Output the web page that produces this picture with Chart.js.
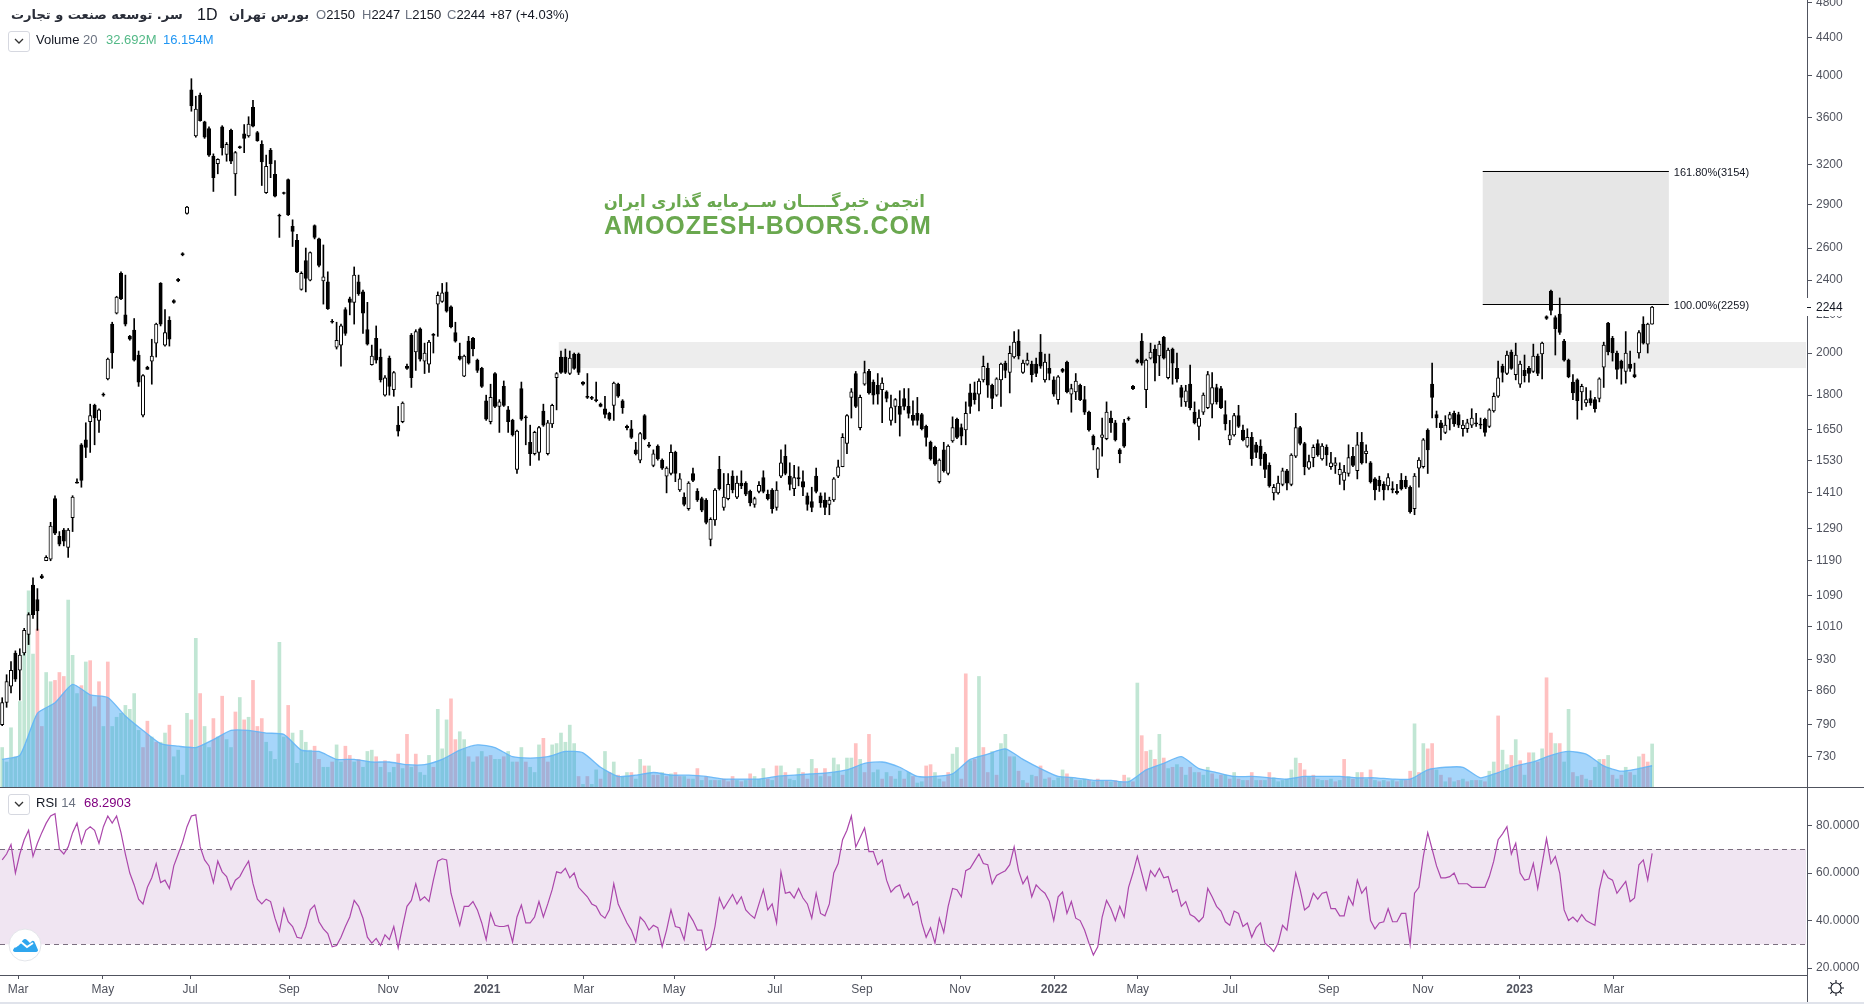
<!DOCTYPE html>
<html>
<head>
<meta charset="utf-8">
<title>chart</title>
<script src="https://cdn.jsdelivr.net/npm/chart.js@4/dist/chart.umd.min.js"></script>
<style>
  html, body { margin: 0; background: #fff; width: 1864px; height: 1005px; overflow: hidden; }
  canvas { position: absolute; left: 0; }
  .t { position: absolute; white-space: nowrap; font: 13px "Liberation Sans", sans-serif; color: #131722; line-height: 16px; }
  .g { color: #6b7280; }
  .box { position: absolute; left: 8px; width: 20px; height: 19px; border: 1px solid #d6d8e0; border-radius: 3px; }
  .rule { position: absolute; background: #50535e; }
</style>
</head>
<body>
<canvas id="graficoVolume" width="1864" height="787" style="top:0"></canvas>
<canvas id="graficoPreco" width="1864" height="787" style="top:0"></canvas>
<canvas id="graficoRsi" width="1864" height="214" style="top:787px"></canvas>

<div class="rule" style="left:0;top:787px;width:1864px;height:1px"></div>
<div class="rule" style="left:1807px;top:975px;width:1px;height:27px"></div>
<div style="position:absolute;left:0;top:1002px;width:1864px;height:2px;background:#e0e3eb"></div>

<!-- cabecalho -->
<div class="t" dir="rtl" style="left:11px;top:7px;font:bold 13px 'DejaVu Sans';color:#2a2e39">سر. توسعه صنعت و تجارت</div>
<div class="t" style="left:197px;top:7px;font-size:16px">1D</div>
<div class="t" dir="rtl" style="left:229px;top:7px;font:bold 13px 'DejaVu Sans';color:#2a2e39">بورس تهران</div>
<div class="t" style="left:316px;top:7px"><span class="g">O</span>2150</div>
<div class="t" style="left:362px;top:7px"><span class="g">H</span>2247</div>
<div class="t" style="left:405px;top:7px"><span class="g">L</span>2150</div>
<div class="t" style="left:447px;top:7px"><span class="g">C</span>2244</div>
<div class="t" style="left:490px;top:7px">+87 (+4.03%)</div>

<div class="box" style="top:31px"></div>
<svg style="position:absolute;left:14px;top:37px" width="10" height="8"><path d="M1 2 L5 6 L9 2" fill="none" stroke="#333" stroke-width="1.3"/></svg>
<div class="t" style="left:36px;top:32px">Volume <span class="g">20</span></div>
<div class="t" style="left:106px;top:32px;color:#53b987">32.692M</div>
<div class="t" style="left:163px;top:32px;color:#2196f3">16.154M</div>

<div class="box" style="top:794px"></div>
<svg style="position:absolute;left:14px;top:800px" width="10" height="8"><path d="M1 2 L5 6 L9 2" fill="none" stroke="#333" stroke-width="1.3"/></svg>
<div class="t" style="left:36px;top:795px">RSI <span class="g">14</span></div>
<div class="t" style="left:84px;top:795px;color:#800080">68.2903</div>

<!-- marca d'agua -->
<div class="t" dir="rtl" style="left:604px;top:190px;width:321px;text-align:center;font:bold 16.5px 'DejaVu Sans';line-height:24px;color:#6aa84f">انجمن خبرگـــــان ســرمایه گذاری ایران</div>
<div class="t" style="left:604px;top:211px;font:bold 25px 'Liberation Sans';line-height:28px;color:#6aa84f;letter-spacing:1px">AMOOZESH-BOORS.COM</div>

<!-- logo e engrenagem -->
<svg style="position:absolute;left:7px;top:927px" width="36" height="36">
  <circle cx="18" cy="18" r="16" fill="#fff" stroke="#e3e5ea" stroke-width="1"/>
  <path d="M6 23 Q8 19 11 19 L16 13 Q18 11 20 13 L23 16 L25 14 Q27 13 28 16 L31 23 Q31 25 28 25 L9 25 Q6 25 6 23Z" fill="#2fa6ee"/>
  <path d="M8 20 L14 15 L20 20 L26 16" fill="none" stroke="#fff" stroke-width="2"/>
</svg>
<svg style="position:absolute;left:1827px;top:979px" width="18" height="18" fill="none" stroke="#131722" stroke-width="1.1">
  <circle cx="9" cy="9" r="5"/>
  <path d="M9 1 V4 M9 14 V17 M1 9 H4 M14 9 H17 M3.3 3.3 L5.4 5.4 M12.6 12.6 L14.7 14.7 M3.3 14.7 L5.4 12.6 M12.6 5.4 L14.7 3.3"/>
</svg>

<script>
// velas (amostra a cada dois pregoes)
const abertura = [
  790,835,870,945,905,945,990,1120,1080,1140,
  1190,1195,1390,1265,1285,1230,1325,1445,1590,1610,
  1685,1755,1690,1800,1875,2150,2210,2440,2200,2085,
  2118,1990,1712,1930,1960,2050,2380,2040,2170,2270,
  2395,2555,2835,3860,3440,3810,3565,3505,3270,3210,
  3520,3285,3490,3130,3340,3460,3440,3695,3470,3370,
  2985,3320,3125,2820,2980,3085,2745,2650,2345,2520,
  2400,2750,2660,2395,2390,2160,2030,2040,2230,2290,
  2270,2390,2330,2120,1942,2075,1980,1800,1975,1825,
  1670,1685,1925,2090,2005,2125,1960,1945,2090,2260,
  2275,2330,2245,2105,1985,1888,2060,2075,1965,1925,
  1775,1685,1900,1750,1840,1735,1690,1495,1830,1700,
  1600,1555,1560,1730,1555,1675,1880,1980,1980,1900,
  1995,1995,1860,1795,1790,1780,1760,1740,1720,1755,
  1850,1775,1665,1655,1570,1530,1710,1585,1510,1585,
  1530,1470,1480,1560,1420,1395,1355,1480,1415,1390,
  1385,1255,1318,1495,1360,1390,1470,1395,1445,1445,
  1415,1370,1415,1465,1405,1420,1360,1470,1545,1470,
  1425,1465,1450,1400,1380,1470,1400,1385,1370,1385,
  1470,1505,1595,1790,1900,1660,1850,1910,1860,1845,
  1825,1815,1690,1750,1750,1785,1750,1712,1720,1715,
  1665,1600,1580,1450,1570,1480,1605,1695,1660,1650,
  1810,1810,1805,1870,1925,1845,1800,1870,1950,1905,
  1980,2060,1905,1945,1945,1945,2005,1870,1925,1870,
  1780,1910,1955,1805,1815,1845,1780,1725,1625,1495,
  1620,1615,1700,1680,1570,1680,1700,1830,1955,2060,
  1825,1975,2020,1985,2080,1880,2020,1925,1835,1770,
  1850,1725,1665,1725,1745,1760,1835,1830,1715,1610,
  1630,1710,1650,1585,1620,1590,1585,1555,1510,1410,
  1410,1440,1490,1440,1545,1660,1595,1500,1540,1595,
  1535,1580,1505,1510,1475,1455,1480,1545,1490,1600,
  1555,1520,1460,1455,1440,1435,1425,1415,1455,1455,
  1430,1355,1500,1505,1650,1850,1715,1680,1640,1695,
  1720,1715,1655,1655,1670,1680,1675,1695,1665,1730,
  1795,1935,1900,2005,1895,1850,1915,1925,1910,1985,
  1995,2190,2335,2185,2205,2060,1965,1860,1870,1815,
  1765,1785,1780,1785,1930,2155,2075,2000,1960,1910,
  1945,1885,2000,2150,2045,2150
];
const fechamento = [
  835,880,905,885,940,1000,1040,1040,1050,1146,
  1200,1298,1275,1240,1250,1285,1395,1445,1455,1580,
  1710,1700,1735,1805,1970,2000,2300,2290,2150,2070,
  1965,1860,1890,1920,1985,2150,2150,2105,2070,2280,
  2405,2565,2880,3710,3680,3575,3430,3280,3100,3245,
  3340,3370,3230,3300,3350,3420,3545,3525,3400,3225,
  3190,3210,2960,2815,2985,2825,2710,2450,2440,2410,
  2570,2670,2490,2420,2235,2165,2065,2140,2100,2270,
  2430,2320,2210,2045,1985,1965,1870,1880,1840,1905,
  1645,1765,1935,1880,2110,1970,2000,2055,2095,2310,
  2325,2220,2135,2060,1970,1985,1950,2020,1915,1840,
  1695,1790,1750,1770,1755,1685,1630,1645,1695,1705,
  1555,1640,1660,1670,1680,1755,1900,1905,1905,1975,
  1925,1905,1850,1790,1785,1775,1750,1715,1695,1855,
  1795,1745,1660,1620,1555,1635,1615,1590,1555,1535,
  1500,1500,1560,1480,1460,1370,1445,1455,1385,1350,
  1310,1320,1420,1425,1395,1440,1420,1445,1435,1405,
  1375,1390,1437,1415,1390,1355,1420,1520,1480,1440,
  1465,1460,1430,1370,1360,1415,1375,1360,1385,1460,
  1505,1620,1710,1815,1750,1790,1905,1810,1800,1805,
  1855,1785,1745,1780,1715,1750,1720,1690,1690,1655,
  1620,1535,1515,1530,1490,1585,1660,1620,1625,1720,
  1750,1780,1865,1935,1845,1785,1875,1945,1915,1998,
  2055,1985,1950,1965,1895,1900,1935,1955,1900,1805,
  1885,1920,1815,1830,1865,1780,1725,1650,1590,1575,
  1630,1725,1680,1610,1555,1585,1695,1840,1965,1950,
  1965,2005,1950,2045,1975,2015,1950,1875,1790,1820,
  1745,1680,1700,1800,1895,1835,1770,1745,1675,1630,
  1710,1665,1610,1620,1535,1560,1535,1495,1435,1430,
  1445,1490,1445,1550,1660,1595,1505,1525,1580,1550,
  1585,1550,1520,1520,1495,1485,1540,1510,1590,1520,
  1565,1450,1420,1435,1420,1465,1420,1410,1425,1430,
  1345,1470,1530,1610,1570,1790,1700,1660,1670,1715,
  1675,1670,1670,1680,1700,1675,1670,1640,1735,1795,
  1880,1905,1990,1925,1990,1945,1890,1900,1985,1900,
  2050,2180,2225,2125,2105,1965,1885,1810,1775,1840,
  1780,1765,1740,1875,2040,2005,2000,1920,1925,2000,
  1925,1895,2105,2050,2150,2244
];
const maximas = [
  845,895,925,950,955,1005,1045,1140,1110,1150,
  1205,1310,1400,1280,1290,1290,1400,1460,1595,1680,
  1760,1760,1740,1810,1975,2160,2305,2450,2430,2090,
  2180,2010,1895,1935,2070,2155,2385,2230,2190,2285,
  2410,2570,2885,3970,3800,3830,3570,3520,3290,3250,
  3530,3385,3500,3310,3355,3540,3610,3760,3480,3400,
  3280,3335,3235,2830,2990,3090,2790,2690,2450,2600,
  2575,2755,2665,2620,2450,2175,2160,2150,2240,2300,
  2480,2430,2340,2270,2040,2140,2020,1890,1985,1910,
  1750,1770,1945,2100,2120,2130,2050,2065,2100,2330,
  2380,2385,2250,2160,2050,1990,2085,2080,1970,1930,
  1800,1850,1905,1780,1865,1750,1695,1650,1860,1710,
  1670,1645,1665,1760,1690,1760,1905,2010,2020,2010,
  2000,2000,1862,1900,1795,1860,1765,1795,1725,1860,
  1855,1780,1670,1690,1600,1640,1715,1600,1570,1590,
  1535,1505,1590,1565,1480,1410,1450,1500,1425,1395,
  1390,1325,1425,1545,1480,1480,1490,1470,1490,1450,
  1420,1395,1450,1490,1420,1425,1450,1570,1590,1520,
  1510,1505,1490,1410,1430,1500,1410,1410,1395,1465,
  1530,1635,1715,1830,1910,1800,1960,1920,1870,1900,
  1880,1820,1800,1785,1820,1830,1830,1775,1790,1720,
  1670,1605,1585,1535,1600,1590,1705,1700,1675,1770,
  1850,1860,1875,1985,1950,1850,1880,1950,1960,2035,
  2110,2120,1965,2000,1960,1975,2095,1995,1995,1885,
  1890,1925,1960,1850,1900,1850,1840,1730,1630,1580,
  1700,1770,1730,1690,1575,1695,1705,1845,1970,2100,
  1970,2050,2040,2060,2085,2025,2025,2000,1845,1845,
  1940,1770,1735,1810,1910,1905,1850,1840,1775,1690,
  1720,1755,1670,1655,1640,1600,1610,1560,1520,1440,
  1470,1500,1495,1555,1720,1665,1600,1550,1590,1610,
  1595,1590,1560,1540,1520,1510,1590,1580,1640,1640,
  1590,1525,1465,1470,1450,1480,1450,1440,1480,1470,
  1435,1480,1540,1615,1655,1950,1730,1690,1710,1725,
  1730,1725,1690,1695,1740,1720,1700,1700,1740,1810,
  1960,1945,2010,2015,2050,1960,1990,1935,2045,1995,
  2055,2195,2340,2195,2295,2070,1970,1895,1875,1850,
  1835,1820,1790,1880,2055,2160,2085,2010,1965,2110,
  2010,1950,2115,2190,2155,2247
];
const minimas = [
  788,825,855,880,840,940,965,1030,1000,1138,
  1190,1190,1270,1235,1235,1200,1280,1445,1430,1540,
  1560,1590,1640,1795,1870,1925,2205,2285,2140,2065,
  1960,1840,1705,1920,1850,1980,2140,2035,2035,2265,
  2390,2550,2830,3660,3430,3570,3420,3270,2995,3130,
  3280,3230,3210,2965,3335,3300,3430,3520,3395,3040,
  2980,3100,2955,2670,2975,2820,2610,2445,2340,2330,
  2395,2660,2480,2260,2230,2155,2020,1935,2090,2200,
  2150,2310,2100,2040,1940,1950,1860,1795,1800,1795,
  1625,1680,1920,1835,1915,1960,1900,1905,2000,2085,
  2270,2215,2130,2055,1965,1885,1945,1985,1905,1835,
  1690,1675,1745,1640,1750,1640,1625,1480,1690,1590,
  1510,1550,1530,1665,1550,1660,1735,1900,1900,1895,
  1920,1895,1845,1785,1780,1770,1748,1700,1690,1690,
  1790,1720,1650,1615,1550,1520,1610,1580,1505,1530,
  1495,1410,1475,1450,1415,1365,1350,1450,1380,1345,
  1305,1235,1300,1420,1350,1385,1410,1390,1425,1400,
  1365,1360,1410,1410,1385,1340,1350,1465,1475,1420,
  1400,1435,1400,1350,1345,1410,1360,1335,1335,1380,
  1465,1505,1555,1700,1745,1650,1845,1805,1760,1760,
  1680,1770,1670,1680,1625,1735,1700,1670,1670,1650,
  1585,1530,1510,1445,1485,1475,1600,1615,1590,1590,
  1720,1760,1730,1860,1790,1740,1795,1750,1880,1810,
  1975,1970,1900,1940,1860,1885,1925,1860,1870,1795,
  1760,1905,1810,1725,1780,1775,1715,1645,1570,1465,
  1545,1610,1640,1605,1520,1580,1690,1825,1950,1940,
  1745,1970,1865,1890,1970,1875,1850,1860,1750,1750,
  1735,1675,1610,1715,1740,1700,1760,1740,1650,1590,
  1625,1660,1605,1580,1510,1540,1510,1465,1430,1385,
  1405,1435,1420,1435,1540,1590,1475,1495,1505,1545,
  1530,1510,1495,1480,1440,1420,1470,1505,1460,1515,
  1520,1445,1385,1415,1385,1420,1410,1405,1420,1425,
  1340,1335,1430,1500,1480,1700,1660,1610,1635,1650,
  1665,1660,1625,1640,1660,1665,1655,1625,1660,1725,
  1790,1860,1895,1920,1870,1835,1860,1860,1905,1890,
  1875,2175,2200,1990,2095,1960,1880,1780,1695,1735,
  1750,1755,1725,1770,1835,1990,1960,1875,1850,1855,
  1910,1880,1975,2045,2000,2150
];

// volume em milhoes e direcao de cada barra (g = alta, r = baixa)
const volume = [
  30,19,45,23,65,116,149,101,120,46,
  87,80,81,87,84,142,100,71,77,95,
  96,61,80,46,95,46,53,56,62,59,
  71,43,30,50,38,34,34,41,47,23,
  28,9,56,51,113,71,46,30,52,38,
  69,36,30,57,68,51,53,81,46,52,
  34,27,21,110,38,62,41,18,43,34,
  28,31,21,15,15,19,32,19,31,24,
  19,21,15,27,28,23,15,20,11,15,
  25,14,40,15,25,11,9,24,15,59,
  29,51,67,36,42,36,23,19,23,27,
  23,24,21,21,23,27,19,19,30,19,
  15,11,32,37,19,32,33,41,34,47,
  33,8,2,8,2,13,6,27,11,19,
  9,8,11,11,6,21,16,16,9,9,
  11,8,10,11,8,8,6,6,14,5,
  8,5,5,5,6,4,8,5,4,5,
  10,8,6,14,6,5,16,16,11,6,
  5,14,11,6,21,14,8,14,8,22,
  17,9,22,22,33,21,11,40,11,13,
  6,11,8,6,12,6,11,8,3,4,
  16,17,11,6,4,11,25,30,6,86,
  20,21,84,30,11,27,9,33,40,23,
  23,12,5,3,9,8,16,6,7,5,
  7,13,10,7,5,5,6,5,4,6,
  5,5,4,5,4,9,7,4,79,39,
  27,28,21,40,22,14,15,17,15,9,
  15,11,11,9,15,10,6,9,9,6,
  11,6,5,5,11,5,5,5,11,7,
  4,5,6,13,22,18,13,8,9,6,
  5,5,6,4,5,21,8,6,11,11,
  6,13,5,4,5,4,5,4,5,5,
  12,48,11,33,29,33,13,9,4,7,
  4,5,6,4,5,5,5,4,12,19,
  54,28,17,24,36,20,9,26,26,19,
  29,83,41,33,33,19,59,11,8,9,
  6,5,15,21,21,24,9,6,9,15,
  11,9,23,25,19,32.692
];
const direcaoVolume =
  "ggggggggrr" + "ggrrrgggrg" + "rrrgrggggg" + "ggrrgrggrg" + "gggrgrggrg" + "rggrgrgrrr" +
  "gggggrgggg" + "grrggrggrr" + "grgggrgrgg" + "rgrgrgggrg" + "ggrrggrgrg" + "rrggrggrgr" +
  "gggrrggggg" + "grgrggrgrg" + "rggrggrgrr" + "grgrrgrgrg" + "rgrgrrrgrg" + "rgggrgrgrg" +
  "ggrrgrgrrg" + "grggrgrrgg" + "rgrggrgrgg" + "rrggrrggrr" + "grgrrgrggr" + "grgrgrrgrg" +
  "ggrgrg" + "grgr" + "grgrgrgrgr" + "rgrgrgrgrg" + "rgrggrgrgr" + "grgrrgrgrg" +
  "gggggrrgrg" + "grgrgrgrgr" + "grgrgrgrgr" + "rgrgrrgrgr" + "grgrgrgrgg" + "rggrgrgrgr" +
  "grrgrggrgr" + "grggrgrgrg" + "rggrrg";

// media do volume (20), lida a cada 4 barras
const mediaVolume = [
  21,24,56,64,78,70,68,54,43,33,31,30,36,43,43,41,40,28,27,21,21,19,19,17,17,21,28,32,30,
  23,22,23,27,26,15,8,9,11,9,9,8,6,6,6,8,9,10,11,13,18,19,15,8,8,10,21,25,29,21,14,8,7,
  5,5,4,13,18,23,14,11,8,8,7,6,8,8,8,7,7,6,6,13,15,15,7,11,16,19,24,27,25,16,12,14,16.154
];

const rsi = [
  65.5,68,72,60,68,74,78,67,72.5,77,
  81,84,85,70,68,71,77,81,72.5,78,
  79.5,78,72.5,79.5,84,81,84,77,68,60,
  55,49,47,54,58,64,56,57,53.5,63,
  68,73,79.5,84,84.5,71,65.5,63,56,65,
  60.5,58.5,53,57,58.5,62,65,55.5,49,47,
  49,48,41,35.5,45,39.5,37.5,33,32.5,37.5,
  44.5,46.5,39.5,36.5,34.5,29,29.5,33,37.5,41.5,
  48.5,46,41,33,30.5,32.5,29.5,34,32,37.5,
  28.5,37.5,46,48.5,55.5,48.5,50,48,57,65,
  66,65.5,51.5,44.5,38,46,46,48,44.5,39,
  32,43,38,37.5,37.5,38,31,41.5,46.5,39,
  39,41.5,48,41.5,47,53,60.5,60,62,58,
  60,54,52,50,47,46,42.5,41,44.5,55.5,
  47,43,39,36,31,41.5,39.5,36,38,37,
  29,36,44.5,37.5,37,32,43,40,36,36,
  27.5,29,37.5,49.5,45,48,51,47,50,44.5,
  42.5,41,47,53,44.5,47,39,60.5,51.5,52,
  49.5,53.5,49.5,47,41,51.5,43,42,47,60,
  64,74,78,84,71,75,79,69,69,63.5,
  65.5,57,52,54,55,49.5,51.5,46.5,48,39,
  33,37,30.5,41,35,46,53.5,53,50,61,
  62,65,68,64,63.5,55.5,59,60,61,63.5,
  71,61,55.5,58.5,50,55,53,51.5,48,40,
  50,52,43,48,41,40,36,30.5,25.5,29,
  41.5,48.5,45,40,46,41.5,54,60,67,60,
  53,61,58.5,62,58,58.5,52,53,46,48,
  42.5,41.5,39.5,41.5,53.5,50,46,44,39.5,38,
  44,43,37.5,39,33,37,39,30.5,29,27,
  30.5,38,36,48.5,60,53,44.5,46,51.5,49,
  51.5,52,45,45,42,42,50,46.5,57,51.5,
  54,40,36.5,39,39.5,45,39.5,39.5,43,43,
  30,51.5,54,67,77,70,63,58,58,58.5,
  60,55.5,55.5,55.5,54,54,54,54,58.5,65,
  74,76.5,79.5,68,72.5,60,57,57.5,64,53.5,
  64,74.5,64,67,60,44.5,40,41.5,39.5,42.5,
  40,39,38,53,61,58,57,51.5,54,56.5,
  48,49.5,63.5,65.5,57,68.29
];

// eixos
const ticksPreco = [4800,4400,4000,3600,3200,2900,2600,2400,2200,2000,1800,1650,1530,1410,1290,1190,1090,1010,930,860,790,730];
const ticksRsi = [20,40,60,80];
const posicoesTempo = [3.6,22.9,42.7,65.2,87.7,110.2,132.2,152.7,175.6,195.4,217.7,239.1,258.1,279.1,301.5,322.9,344.9,366.3];
const rotulosTempo = ['Mar','May','Jul','Sep','Nov','2021','Mar','May','Jul','Sep','Nov','2022','May','Jul','Sep','Nov','2023','Mar'];

// zonas e niveis
const zonaSuporte = [1926, 2056];
const inicioSuporte = 126.5;
const niveisFibo = [2259, 3154];
const rotulosFibo = ['100.00%(2259)', '161.80%(3154)'];
const faixaFibo = [336.5, 378.8];
const ultimoPreco = 2244;
const niveisRsi = [30, 70];

const X_MIN = -0.5, X_MAX = 410.2;
const COR_EIXO = '#50535e';
const FONTE = '"Liberation Sans", sans-serif';
const indices = abertura.map((_, i) => i);

function eixoX(display) {
    return { type: 'linear', min: X_MIN, max: X_MAX, offset: false, display: display };
}

// tira a folga que o Chart.js reserva para os rotulos das pontas
function semFolga(s) {
    s.paddingTop = 0;
    s.paddingBottom = 0;
    s.paddingLeft = 0;
    s.paddingRight = 0;
}

// volume (fica atras das velas)
new Chart(document.getElementById('graficoVolume').getContext('2d'), {
    type: 'bar',
    data: {
        datasets: [{
            type: 'line',
            data: mediaVolume.map((v, i) => ({ x: Math.min(i * 4, indices.length - 1), y: v })),
            borderColor: 'rgba(100,181,246,0.9)',
            borderWidth: 1.3,
            backgroundColor: 'rgba(33,150,243,0.4)',
            fill: 'origin',
            pointRadius: 0,
            tension: 0.2
        }, {
            data: indices.map(i => ({ x: i, y: volume[i] })),
            backgroundColor: indices.map(i => direcaoVolume[i] === 'g' ? 'rgba(83,185,135,0.36)' : 'rgba(255,82,82,0.36)'),
            barThickness: 3
        }]
    },
    options: {
        responsive: false,
        animation: false,
        layout: { padding: { right: 57 } },
        plugins: { legend: { display: false }, tooltip: { enabled: false } },
        scales: {
            x: eixoX(false),
            y: { type: 'linear', min: 0, max: 598, display: false }
        }
    }
});

// zonas cinzas, niveis de Fibonacci e etiqueta do ultimo preco
const desenhoPreco = {
    id: 'desenhoPreco',
    beforeDatasetsDraw(chart) {
        const { ctx, chartArea, scales: { x, y } } = chart;
        ctx.save();
        ctx.fillStyle = '#ededed';
        ctx.fillRect(x.getPixelForValue(inicioSuporte), y.getPixelForValue(zonaSuporte[1]),
            chartArea.right - x.getPixelForValue(inicioSuporte) - 1,
            y.getPixelForValue(zonaSuporte[0]) - y.getPixelForValue(zonaSuporte[1]));
        const x1 = x.getPixelForValue(faixaFibo[0]), x2 = x.getPixelForValue(faixaFibo[1]);
        const yBase = y.getPixelForValue(niveisFibo[0]), yTopo = y.getPixelForValue(niveisFibo[1]);
        ctx.fillStyle = '#e6e6e6';
        ctx.fillRect(x1, yTopo, x2 - x1, yBase - yTopo);
        ctx.restore();
    },
    afterDatasetsDraw(chart) {
        const { ctx, scales: { x, y } } = chart;
        const x1 = x.getPixelForValue(faixaFibo[0]), x2 = x.getPixelForValue(faixaFibo[1]);
        ctx.save();
        ctx.strokeStyle = '#000';
        ctx.lineWidth = 1;
        ctx.fillStyle = '#131722';
        ctx.font = '11px ' + FONTE;
        ctx.textBaseline = 'middle';
        niveisFibo.forEach((nivel, i) => {
            const py = Math.round(y.getPixelForValue(nivel)) + 0.5;
            ctx.beginPath();
            ctx.moveTo(x1, py);
            ctx.lineTo(x2, py);
            ctx.stroke();
            ctx.fillText(rotulosFibo[i], x2 + 5, py + 1);
        });
        ctx.restore();
    },
    afterDraw(chart) {
        const { ctx, chartArea, scales: { y } } = chart;
        const py = Math.round(y.getPixelForValue(ultimoPreco));
        ctx.save();
        ctx.fillStyle = '#fff';
        ctx.fillRect(chartArea.right - 1, py - 9, 56, 18);
        ctx.fillStyle = '#131722';
        ctx.fillRect(chartArea.right, py, 4, 1);
        ctx.font = '12px ' + FONTE;
        ctx.textBaseline = 'middle';
        ctx.fillText(String(ultimoPreco), chartArea.right + 9, py + 1);
        ctx.restore();
    }
};

// velas: corpo e pavio sao barras flutuantes
new Chart(document.getElementById('graficoPreco').getContext('2d'), {
    type: 'bar',
    data: {
        datasets: [{
            data: indices.map(i => ({ x: i, y: [abertura[i], fechamento[i]] })),
            // corpo quase sem altura vira um traco preto, como na referencia
            backgroundColor: indices.map(i => fechamento[i] >= abertura[i] * 1.006 ? '#ffffff' : '#000000'),
            borderColor: '#000000',
            borderWidth: 1,
            borderSkipped: false,
            barThickness: 3.4,
            minBarLength: 1,
            grouped: false
        }, {
            data: indices.map(i => ({ x: i, y: [minimas[i], maximas[i]] })),
            backgroundColor: '#000000',
            barThickness: 1,
            grouped: false
        }]
    },
    options: {
        responsive: false,
        animation: false,
        layout: { padding: 0 },
        plugins: { legend: { display: false }, tooltip: { enabled: false } },
        scales: {
            x: eixoX(false),
            y: {
                type: 'logarithmic',
                position: 'right',
                min: 676,
                max: 4833,
                afterFit: s => { s.width = 57; semFolga(s); },
                afterBuildTicks: s => { s.ticks = ticksPreco.map(v => ({ value: v })); },
                grid: { drawOnChartArea: false, color: COR_EIXO, tickLength: 5 },
                border: { color: COR_EIXO },
                ticks: {
                    autoSkip: false,
                    maxRotation: 0,
                    padding: 4,
                    color: COR_EIXO,
                    font: { family: FONTE, size: 12 },
                    callback: v => String(v)
                }
            }
        }
    },
    plugins: [desenhoPreco]
});

// faixa 30-70 do RSI
const faixaRsi = {
    id: 'faixaRsi',
    beforeDatasetsDraw(chart) {
        const { ctx, chartArea, scales: { y } } = chart;
        const topo = y.getPixelForValue(niveisRsi[1]), base = y.getPixelForValue(niveisRsi[0]);
        ctx.save();
        ctx.fillStyle = '#f0e5f2';
        ctx.fillRect(chartArea.left, topo, chartArea.width - 1, base - topo);
        ctx.strokeStyle = '#7b6f80';
        ctx.lineWidth = 1;
        ctx.setLineDash([5, 4]);
        [topo, base].forEach(py => {
            ctx.beginPath();
            ctx.moveTo(chartArea.left, Math.round(py) + 0.5);
            ctx.lineTo(chartArea.right, Math.round(py) + 0.5);
            ctx.stroke();
        });
        ctx.restore();
    }
};

new Chart(document.getElementById('graficoRsi').getContext('2d'), {
    type: 'line',
    data: {
        datasets: [{
            data: indices.map(i => ({ x: i, y: rsi[i] })),
            borderColor: '#ab47ab',
            borderWidth: 1.2,
            pointRadius: 0,
            tension: 0
        }]
    },
    options: {
        responsive: false,
        animation: false,
        layout: { padding: 0 },
        plugins: { legend: { display: false }, tooltip: { enabled: false } },
        scales: {
            x: {
                type: 'linear',
                min: X_MIN,
                max: X_MAX,
                offset: false,
                afterFit: s => { s.height = 26; semFolga(s); },
                afterBuildTicks: s => { s.ticks = posicoesTempo.map(v => ({ value: v })); },
                grid: { drawOnChartArea: false, color: COR_EIXO, tickLength: 4 },
                border: { color: COR_EIXO },
                ticks: {
                    autoSkip: false,
                    maxRotation: 0,
                    padding: 3,
                    color: COR_EIXO,
                    font: ctx => ({ family: FONTE, size: 12, weight: ctx.tick && /^\d/.test(ctx.tick.label || '') ? 'bold' : 'normal' }),
                    callback: v => rotulosTempo[posicoesTempo.indexOf(v)]
                }
            },
            y: {
                type: 'linear',
                position: 'right',
                min: 17.1,
                max: 96.2,
                afterFit: s => { s.width = 57; semFolga(s); },
                afterBuildTicks: s => { s.ticks = ticksRsi.map(v => ({ value: v })); },
                grid: { drawOnChartArea: false, color: COR_EIXO, tickLength: 5 },
                border: { color: COR_EIXO },
                ticks: {
                    autoSkip: false,
                    padding: 4,
                    color: COR_EIXO,
                    font: { family: FONTE, size: 12 },
                    callback: v => v.toFixed(4)
                }
            }
        }
    },
    plugins: [faixaRsi]
});
</script>
</body>
</html>
